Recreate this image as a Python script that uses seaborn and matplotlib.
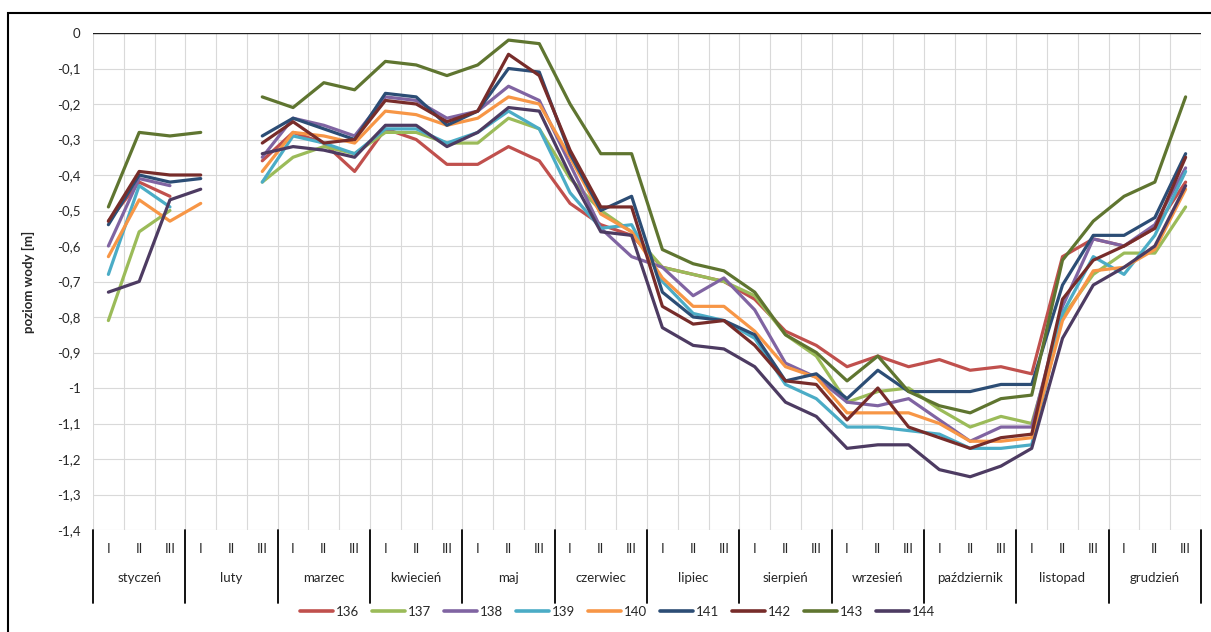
import numpy as np
import pandas as pd
import matplotlib.pyplot as plt
import matplotlib.transforms as mtransforms
from matplotlib.lines import Line2D
from matplotlib.patches import Rectangle
import seaborn as sns

nan = np.nan

# Kategorie osi X: miesiące i dekady
miesiace = ["styczeń", "luty", "marzec", "kwiecień", "maj", "czerwiec",
            "lipiec", "sierpień", "wrzesień", "październik", "listopad", "grudzień"]
dekady = ["I", "II", "III"]

punkty = ["136", "137", "138", "139", "140", "141", "142", "143", "144"]
kolory = ["#C0504D", "#9BBB59", "#8064A2", "#4BACC6", "#F79646",
          "#2C4D75", "#772C2A", "#5F7530", "#4D3B62"]

# Poziom wody [m] w kolejnych dekadach (36 wartości na punkt)
p136 = [-0.53, -0.42, -0.46, nan, nan, -0.36, -0.28, -0.31, -0.39, -0.27, -0.30, -0.37,
        -0.37, -0.32, -0.36, -0.48, -0.54, -0.57, -0.66, -0.68, -0.70, -0.75, -0.84, -0.88,
        -0.94, -0.91, -0.94, -0.92, -0.95, -0.94, -0.96, -0.63, -0.58, -0.60, -0.55, -0.42]
p137 = [-0.81, -0.56, -0.50, nan, nan, -0.42, -0.35, -0.32, -0.34, -0.28, -0.28, -0.31,
        -0.31, -0.24, -0.27, -0.41, -0.50, -0.56, -0.66, -0.68, -0.70, -0.74, -0.85, -0.91,
        -1.04, -1.01, -1.00, -1.06, -1.11, -1.08, -1.10, -0.80, -0.68, -0.62, -0.62, -0.49]
p138 = [-0.60, -0.41, -0.43, nan, nan, -0.35, -0.24, -0.26, -0.29, -0.18, -0.19, -0.24,
        -0.22, -0.15, -0.19, -0.37, -0.55, -0.63, -0.66, -0.74, -0.69, -0.78, -0.93, -0.97,
        -1.04, -1.05, -1.03, -1.09, -1.15, -1.11, -1.11, -0.77, -0.58, -0.60, -0.54, -0.38]
p139 = [-0.68, -0.43, -0.49, nan, nan, -0.42, -0.29, -0.31, -0.34, -0.27, -0.27, -0.31,
        -0.28, -0.22, -0.27, -0.45, -0.55, -0.54, -0.70, -0.79, -0.81, -0.86, -0.99, -1.03,
        -1.11, -1.11, -1.12, -1.13, -1.17, -1.17, -1.16, -0.79, -0.63, -0.68, -0.57, -0.39]
p140 = [-0.63, -0.47, -0.53, -0.48, nan, -0.39, -0.28, -0.29, -0.31, -0.22, -0.23, -0.26,
        -0.24, -0.18, -0.20, -0.35, -0.51, -0.56, -0.69, -0.77, -0.77, -0.84, -0.94, -0.97,
        -1.07, -1.07, -1.07, -1.10, -1.15, -1.15, -1.14, -0.81, -0.67, -0.66, -0.61, -0.44]
p141 = [-0.54, -0.40, -0.42, -0.41, nan, -0.29, -0.24, -0.27, -0.30, -0.17, -0.18, -0.26,
        -0.22, -0.10, -0.11, -0.34, -0.50, -0.46, -0.73, -0.80, -0.81, -0.85, -0.98, -0.96,
        -1.03, -0.95, -1.01, -1.01, -1.01, -0.99, -0.99, -0.71, -0.57, -0.57, -0.52, -0.34]
p142 = [-0.53, -0.39, -0.40, -0.40, nan, -0.31, -0.25, -0.31, -0.30, -0.19, -0.20, -0.25,
        -0.22, -0.06, -0.12, -0.33, -0.49, -0.49, -0.77, -0.82, -0.81, -0.88, -0.98, -0.99,
        -1.09, -1.00, -1.11, -1.14, -1.17, -1.14, -1.13, -0.75, -0.64, -0.60, -0.55, -0.35]
p143 = [-0.49, -0.28, -0.29, -0.28, nan, -0.18, -0.21, -0.14, -0.16, -0.08, -0.09, -0.12,
        -0.09, -0.02, -0.03, -0.20, -0.34, -0.34, -0.61, -0.65, -0.67, -0.73, -0.85, -0.90,
        -0.98, -0.91, -1.01, -1.05, -1.07, -1.03, -1.02, -0.64, -0.53, -0.46, -0.42, -0.18]
p144 = [-0.73, -0.70, -0.47, -0.44, nan, -0.34, -0.32, -0.33, -0.35, -0.26, -0.26, -0.32,
        -0.28, -0.21, -0.22, -0.40, -0.56, -0.57, -0.83, -0.88, -0.89, -0.94, -1.04, -1.08,
        -1.17, -1.16, -1.16, -1.23, -1.25, -1.22, -1.17, -0.86, -0.71, -0.66, -0.60, -0.43]

poziomy = {"136": p136, "137": p137, "138": p138, "139": p139, "140": p140,
           "141": p141, "142": p142, "143": p143, "144": p144}

# Long format; a new segment starts after each gap so lines break at missing data
rows = []
for nazwa, wartosci in poziomy.items():
    seg = 0
    for i, v in enumerate(wartosci):
        if np.isnan(v):
            seg += 1
            continue
        rows.append((nazwa, i, v, seg))
df = pd.DataFrame(rows, columns=["punkt", "x", "poziom", "odcinek"])

sns.set_theme(style="white")
plt.rcParams['font.family'] = ['Lato', 'DejaVu Sans']

W, H = 1211, 632
fig, ax = plt.subplots(figsize=(W / 100, H / 100), dpi=100)
fig.subplots_adjust(left=93 / W, right=1201 / W, top=1 - 33 / H, bottom=1 - 530 / H)

sns.lineplot(data=df, x="x", y="poziom", hue="punkt", units="odcinek", estimator=None,
             hue_order=punkty, palette=dict(zip(punkty, kolory)), linewidth=2.3,
             sort=False, ax=ax, zorder=3)

ax.set_xlim(-0.5, 35.5)
ax.set_ylim(-1.4, 0)
for s in ax.spines.values():
    s.set_visible(False)

# Y axis: ticks every 0.1 with comma decimals
yt = [-k / 10 for k in range(15)]
ax.set_yticks(yt)
ax.set_yticklabels(["0" if k == 0 else f"{-k / 10:g}".replace(".", ",") for k in range(15)],
                   fontsize=9.5, color="#262626")
ax.tick_params(axis="y", length=0, pad=9)
ax.set_ylabel("poziom wody [m]", fontsize=9.5, fontweight="bold", color="#262626")
ax.yaxis.set_label_coords(-0.052, 0.5)

# Gridlines: horizontal every 0.1, vertical between categories
ax.set_xticks(range(36))
ax.set_xticklabels([])
ax.set_xticks(np.arange(-0.5, 36, 1), minor=True)
ax.tick_params(axis="x", which="both", length=0)
ax.yaxis.grid(True, color="#D9D9D9", lw=0.8)
ax.xaxis.grid(True, which="minor", color="#D9D9D9", lw=0.8)
ax.xaxis.grid(False, which="major")
ax.axhline(0, color="#1f1f1f", lw=1.7, zorder=2)
ax.set_xlabel("")

# Two-level category labels
blend = mtransforms.blended_transform_factory(ax.transData, ax.transAxes)
for i in range(36):
    ax.text(i, -0.038, dekady[i % 3], transform=blend, ha="center", va="center",
            fontsize=9.5, color="#262626")
for m, nazwa in enumerate(miesiace):
    ax.text(3 * m + 1, -0.097, nazwa, transform=blend, ha="center", va="center",
            fontsize=9.5, color="#262626")
for m in range(13):
    x = 3 * m - 0.5
    ax.add_line(Line2D([x, x], [0, -0.147], transform=blend, color="black",
                       lw=1.3, clip_on=False))

# Legend at the bottom
handles, labels = ax.get_legend_handles_labels()
ax.get_legend().remove()
for h in handles:
    h.set_linewidth(2.6)
fig.legend(handles, labels, loc="center", bbox_to_anchor=(0.51, 1 - 612 / H), ncol=9,
           frameon=False, fontsize=9.5, handlelength=2.5, handletextpad=0.2,
           columnspacing=1.0)

# Chart area border (only top and left fall inside the image)
fig.add_artist(Rectangle((8 / W, -0.1), 1.2, 1 - 13 / H + 0.1, transform=fig.transFigure,
                         fill=False, ec="black", lw=1.5))

fig.savefig("out.png", dpi=100)
